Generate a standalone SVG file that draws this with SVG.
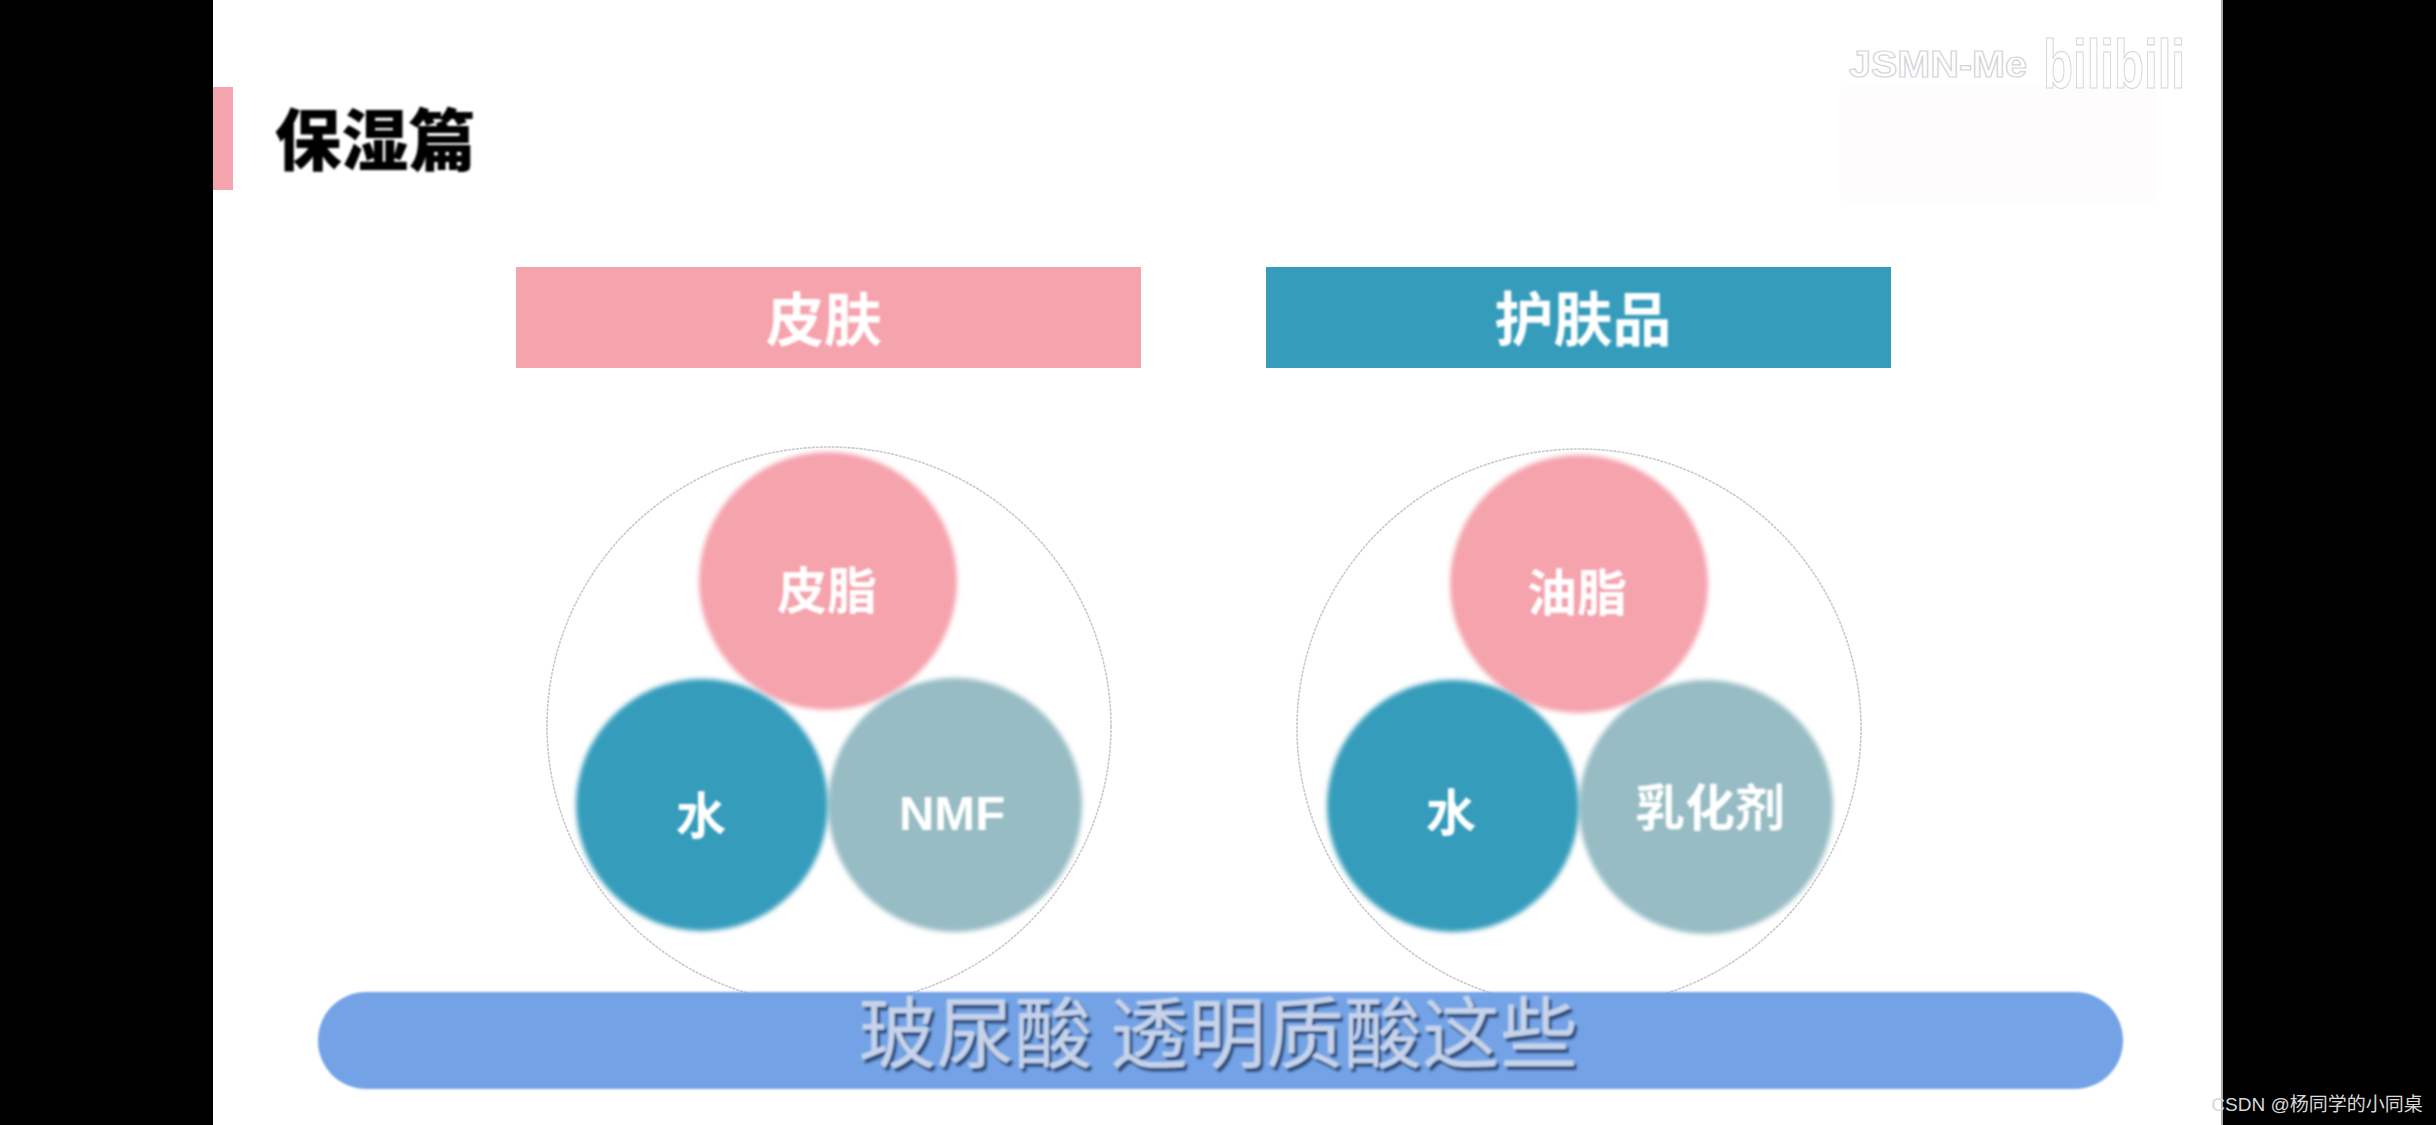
<svg xmlns="http://www.w3.org/2000/svg" width="2436" height="1125" viewBox="0 0 2436 1125">
<defs>
<filter id="soft" x="-10%" y="-10%" width="120%" height="120%"><feGaussianBlur stdDeviation="2.4"/></filter>
<filter id="t" x="-10%" y="-10%" width="120%" height="120%"><feGaussianBlur stdDeviation="0.9"/></filter>
<filter id="sub" x="-5%" y="-20%" width="110%" height="140%">
<feGaussianBlur in="SourceAlpha" stdDeviation="1.4" result="b"/>
<feOffset in="b" dx="3" dy="4" result="o"/>
<feFlood flood-color="#2f4a78" flood-opacity="0.95"/>
<feComposite in2="o" operator="in" result="s"/>
<feGaussianBlur in="SourceGraphic" stdDeviation="0.8" result="g"/>
<feMerge><feMergeNode in="s"/><feMergeNode in="g"/></feMerge>
</filter>
</defs>
<style>
text{font-family:"Noto Sans CJK SC","Liberation Sans",sans-serif;text-anchor:middle}
.w{fill:#fff;font-weight:700;filter:url(#t)}
.pink{fill:#f5a3ad}.teal{fill:#359cbb}.grey{fill:#97bcc4}
.ring{fill:#fff;stroke:#c9c9cc;stroke-width:1.6;stroke-dasharray:3 1}
.c{filter:url(#soft)}
.mark{fill:#fff;stroke:#d4d4d8;stroke-width:1.2;font-family:"Liberation Sans",sans-serif;font-weight:700}
</style>
<rect width="2436" height="1125" fill="#000"/>
<rect x="213" width="2009" height="1125" fill="#fff"/>
<rect x="2221" width="2" height="1125" fill="#aaa"/>
<g id="title">
<rect x="213" y="87" width="20" height="103" fill="#f5a3ad"/>
<text x="375" y="165" font-size="67" font-weight="900" fill="#000" filter="url(#t)">保湿篇</text>
</g>
<g id="watermark">
<rect x="1841" y="85" width="317" height="118" rx="8" fill="#fefcfd"/>
<text class="mark" x="1938" y="77" font-size="36" textLength="178" lengthAdjust="spacingAndGlyphs">JSMN-Me</text>
<text class="mark" x="2114" y="88" font-size="68" textLength="142" lengthAdjust="spacingAndGlyphs">bilibili</text>
</g>
<g id="head-skin">
<rect x="516" y="267" width="625" height="101" fill="#f5a3ad"/>
<text class="w" x="824" y="341" font-size="58">皮肤</text>
</g>
<g id="head-product">
<rect x="1266" y="267" width="625" height="101" fill="#359cbb"/>
<text class="w" x="1583" y="341" font-size="59">护肤品</text>
</g>
<g id="connectors"/>
<g id="ring-left"><ellipse class="ring" cx="829" cy="726" rx="282" ry="279"/></g>
<g id="ring-right"><ellipse class="ring" cx="1579" cy="728" rx="282" ry="279"/></g>
<g id="skin-sebum">
<circle class="pink c" cx="828" cy="581" r="129"/>
<text class="w" x="827" y="609" font-size="50">皮脂</text>
</g>
<g id="skin-nmf">
<circle class="grey c" cx="955" cy="805" r="127"/>
<text class="w" x="952" y="830" font-size="49" style="font-family:'Liberation Sans',sans-serif">NMF</text>
</g>
<g id="skin-water">
<circle class="teal c" cx="702" cy="805" r="126"/>
<text class="w" x="701" y="834" font-size="50">水</text>
</g>
<g id="product-oil">
<circle class="pink c" cx="1579" cy="584" r="129"/>
<text class="w" x="1577" y="611" font-size="50">油脂</text>
</g>
<g id="product-emulsifier">
<circle class="grey c" cx="1706" cy="807" r="127"/>
<text class="w" x="1710" y="826" font-size="50">乳化剂</text>
</g>
<g id="product-water">
<circle class="teal c" cx="1453" cy="806" r="126"/>
<text class="w" x="1451" y="831" font-size="50">水</text>
</g>
<g id="subtitle-bar">
<rect x="318" y="992" width="1805" height="97" rx="48" fill="#73a3e6" filter="url(#t)"/>
<text x="1218" y="1062" font-size="78" font-weight="400" fill="#c6d3ea" filter="url(#sub)">玻尿酸 透明质酸这些</text>
</g>
<text x="2317" y="1111" font-size="19" fill="#d8d8d8" style="font-family:'Liberation Sans','Noto Sans CJK SC',sans-serif">CSDN @杨同学的小同桌</text>
</svg>
